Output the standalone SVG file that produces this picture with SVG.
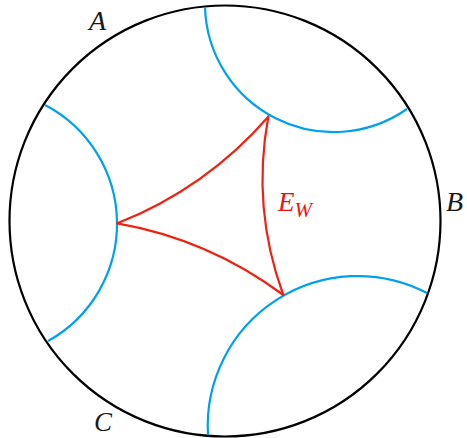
<svg xmlns="http://www.w3.org/2000/svg" width="467" height="438" viewBox="0 0 467 438">
<style>
.disk{fill:none;stroke:#000;stroke-width:2.2}
.geo{fill:none;stroke:#00a0f0;stroke-width:2.2}
.edge{fill:none;stroke:#ee2211;stroke-width:2.2;stroke-linecap:round}
.lbl{font-family:"Liberation Serif",serif;font-style:italic;fill:#1a1a1a}
.red{fill:#ee1111}
</style>
<rect width="467" height="438" fill="#fff"/>
<g id="disk"><circle class="disk" cx="225" cy="221" r="215.5"/></g>
<g id="geodesics">
<path class="geo" d="M45,105 A134,134 0 0 1 48,341"/>
<path class="geo" d="M205,7 A128.6,128.6 0 0 0 407,109"/>
<path class="geo" d="M208,435 A150,150 0 0 1 427,293"/>
</g>
<g id="triangle">
<path class="edge" d="M117.3,223.3 A390,390 0 0 0 268.3,116.7"/>
<path class="edge" d="M268.3,116.7 A340,340 0 0 0 283.3,295"/>
<path class="edge" d="M283.3,295 A390,390 0 0 0 117.3,223.3"/>
</g>
<g id="labels">
<text class="lbl" x="89" y="30" font-size="28">A</text>
<text class="lbl" x="446" y="211" font-size="28">B</text>
<text class="lbl" x="94" y="431" font-size="27">C</text>
<text class="lbl red" x="278" y="211" font-size="27">E<tspan font-size="21" dy="6">W</tspan></text>
</g>
</svg>
